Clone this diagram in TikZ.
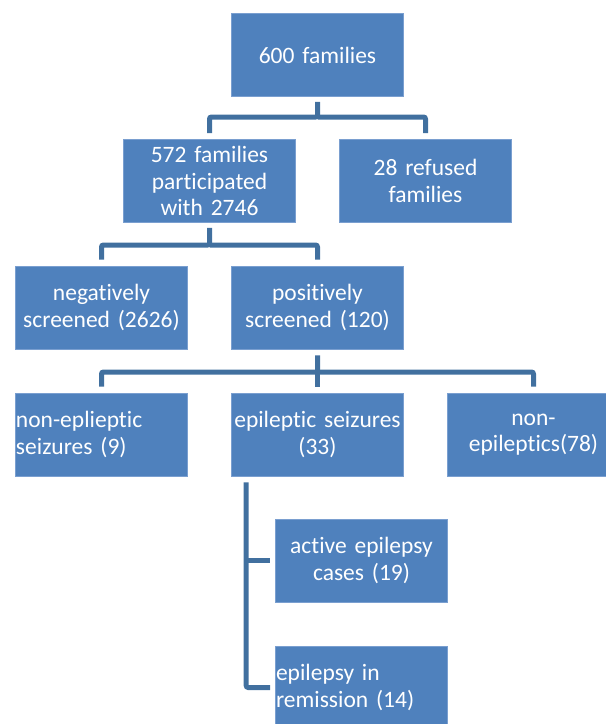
\documentclass[tikz,border=0pt]{standalone}
\usepackage{fontspec}
\setmainfont[Ligatures={NoCommon}]{Carlito}
\definecolor{boxblue}{HTML}{4F81BD}
\definecolor{boxedge}{HTML}{7A9FD0}
\definecolor{connblue}{HTML}{41709F}
\begin{document}
\begin{tikzpicture}[x=1pt,y=-1pt,
  box/.style={rectangle, fill=boxblue, draw=boxedge, line width=0.6pt,
    minimum width=172pt, minimum height=83pt, text width=168pt,
    align=center, inner sep=2pt, text=white,
    font=\fontsize{23.5}{26.6}\selectfont},
  leftbox/.style={box, align=left, inner xsep=0.5pt, text width=171pt},
  conn/.style={draw=connblue, line width=5pt, rounded corners=2pt}]
\useasboundingbox (0,0) rectangle (606,724);
\clip (0,0) rectangle (606,724);
% boxes
\node[box] (top) at (317.5,55) {600 families};
\node[box] (p572) at (209.5,181) {572 families\\participated\\with 2746};
\node[box] (refused) at (425.5,181) {28 refused\\families};
\node[box] (neg) at (101.5,307.5) {negatively\\screened (2626)};
\node[box] (pos) at (317.5,307.5) {positively\\screened (120)};
\node[leftbox] (nonep) at (101.5,434.5) {non-eplieptic\\seizures (9)};
\node[box] (epi) at (317.5,434.5) {epileptic seizures\\(33)};
\node[box] (nonepi) at (533.5,434.5) {non-\\epileptics(78)};
\node[box] (active) at (361.5,560.5) {active epilepsy\\cases (19)};
\node[leftbox] (remis) at (361.5,687.5) {epilepsy in\\remission (14)};
% connectors
\coordinate (j1) at (0,117);
\coordinate (j2) at (0,245);
\coordinate (j3) at (0,372);
\draw[conn] ([yshift=-5pt]top.south) -- (top.south |- j1) -| ([yshift=6pt]p572.north);
\draw[conn] (top.south |- j1) -| ([yshift=6pt]refused.north);
\draw[conn] ([yshift=-5pt]p572.south) -- (p572.south |- j2) -| ([yshift=6pt]neg.north);
\draw[conn] (p572.south |- j2) -| ([yshift=6pt]pos.north);
\draw[conn] ([yshift=-6pt]pos.south) -- (pos.south |- j3) -| ([yshift=6pt]nonep.north);
\draw[conn] (pos.south |- j3) -- ([yshift=6pt]epi.north);
\draw[conn] (pos.south |- j3) -| ([yshift=6pt]nonepi.north);
\coordinate (b0) at ([xshift=15pt,yshift=-6pt]epi.south west);
\draw[conn] (b0) |- ([xshift=-5pt]remis.west);
\draw[conn] (b0 |- active.west) -- ([xshift=-5pt]active.west);
\end{tikzpicture}
\end{document}
